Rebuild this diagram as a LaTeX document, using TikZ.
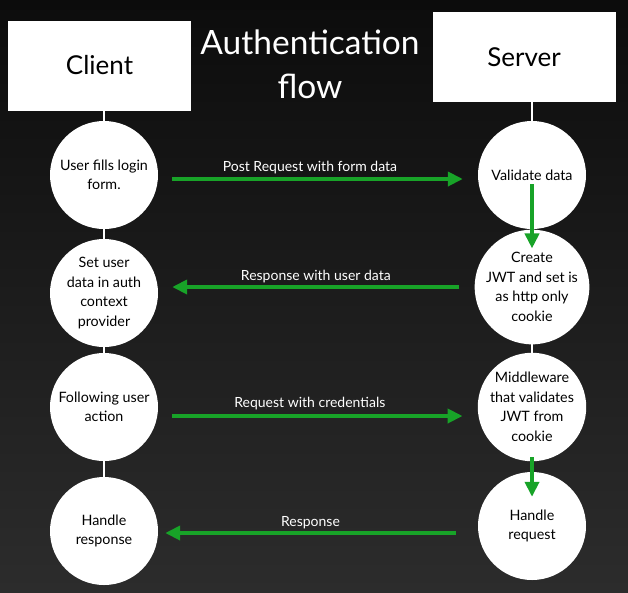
\documentclass[tikz,border=0pt]{standalone}
\usepackage{fontspec}
\setmainfont{Lato}
\usetikzlibrary{arrows.meta}
\pgfdeclarelayer{back}
\pgfdeclarelayer{bg}
\pgfsetlayers{back,bg,main}
\definecolor{grn}{RGB}{24,163,40}
\definecolor{bgtop}{RGB}{12,12,12}
\definecolor{bgbot}{RGB}{44,44,44}
\begin{document}
\begin{tikzpicture}[x=1pt,y=-1pt,
  hdr/.style={fill=white,minimum width=183pt,minimum height=90pt,inner sep=0pt,font=\fontsize{26}{30}\selectfont},
  act/.style={circle,fill=white,minimum size=108pt,inner sep=0pt,align=center,font=\fontsize{14.3}{19.5}\selectfont},
  msg/.style={draw=grn,line width=4pt,-{Triangle[length=15pt,width=14pt]}},
  lbl/.style={text=white,font=\fontsize{14}{16}\selectfont},
  life/.style={draw=white,line width=2pt}]
\useasboundingbox (0,0) rectangle (628,592);
\begin{pgfonlayer}{back}
\shade[top color=bgtop,bottom color=bgbot] (0,0) rectangle (628,592);
\end{pgfonlayer}
\node[hdr] (client) at (99.5,65.5) {Client};
\node[hdr] (server) at (524,57) {Server};
\node[text=white,align=center,font=\fontsize{33.5}{44}\selectfont] (title) at (310,64) {Authentication\\flow};
\node[act] (c1) at (104,175) {User fills login\\form.};
\node[act] (c2) at (104,293) {Set user\\data in auth\\context\\provider};
\node[act] (c3) at (104,407) {Following user\\action};
\node[act] (c4) at (104,531) {Handle\\response};
\node[act] (s1) at (532,175) {Validate data};
\node[act] (s2) at (532,287) {Create\\JWT and set is\\as http only\\cookie};
\node[act] (s3) at (532,407) {Middleware\\that validates\\JWT from\\cookie};
\node[act] (s4) at (532,526) {Handle\\request};
\begin{pgfonlayer}{bg}
\draw[life] (c1.north |- client.south) -- (c4.north);
\draw[life] (s1.north |- server.south) -- (s4.north);
\end{pgfonlayer}
\draw[msg] ([xshift=14pt,yshift=-4pt]c1.east) -- ([xshift=-15pt,yshift=-4pt]c1.east -| s1.west)
  node[lbl,pos=0.474,yshift=11pt] {Post Request with form data};
\draw[msg] ([xshift=-15pt]s2.west) -- ([xshift=14pt]s2.west -| c2.east)
  node[lbl,pos=0.5,yshift=10pt] {Response with user data};
\draw[msg] ([xshift=14pt,yshift=-9pt]c3.east) -- ([xshift=-15pt,yshift=-9pt]c3.east -| s3.west)
  node[lbl,pos=0.474,yshift=12pt] {Request with credentials};
\draw[msg] ([xshift=-22pt,yshift=-7pt]s4.west) -- ([xshift=7pt,yshift=-7pt]s4.west -| c4.east)
  node[lbl,pos=0.5,yshift=10pt] {Response};
\draw[msg] ([yshift=-9pt]s1.center) -- ([yshift=-19pt]s2.north);
\draw[msg] ([yshift=4pt]s3.south) -- ([yshift=-25pt]s4.north);
\end{tikzpicture}
\end{document}
